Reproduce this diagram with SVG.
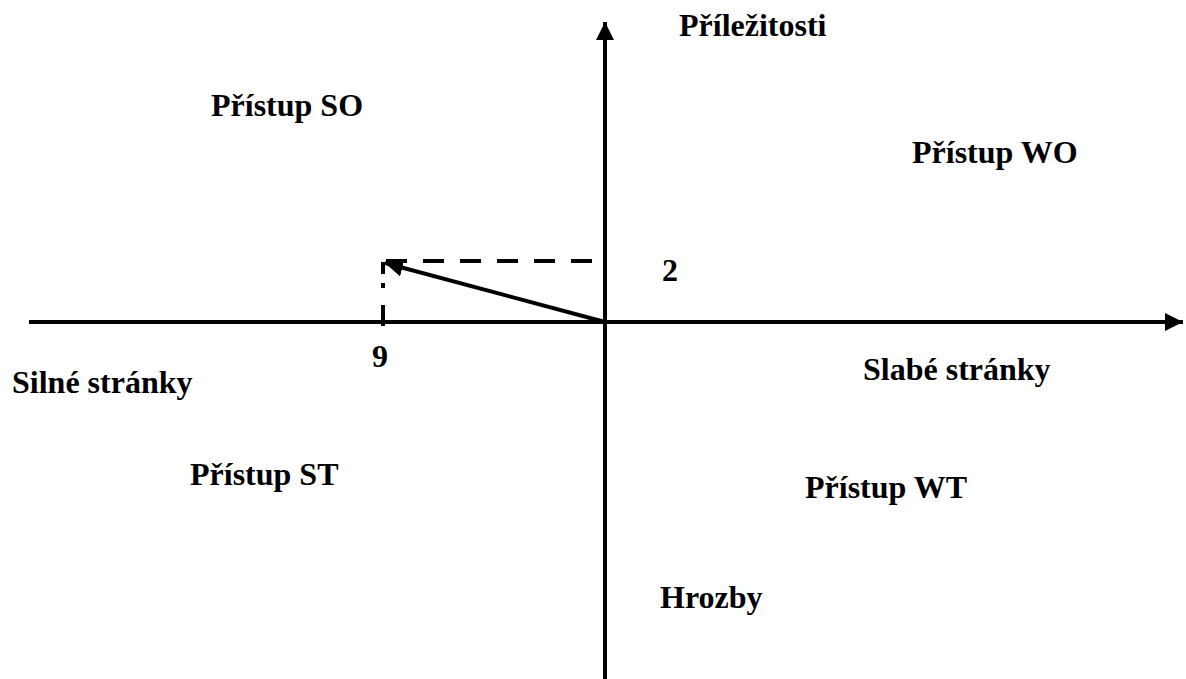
<svg xmlns="http://www.w3.org/2000/svg" width="1186" height="679" viewBox="0 0 1186 679">
<style>
.t{font-family:"Liberation Serif","Times New Roman",serif;font-weight:bold;font-size:32px;fill:#000}
.ax{stroke:#000;stroke-width:4;fill:none}
</style>
<defs>
<marker id="ah" markerUnits="userSpaceOnUse" markerWidth="20" markerHeight="18" refX="18" refY="9" orient="auto">
<path d="M0,0 L18,9 L0,18 Z" fill="#000"/>
</marker>
</defs>
<rect width="1186" height="679" fill="#fff"/>
<g id="connectors">
<line class="ax" x1="29" y1="322" x2="1183" y2="322" marker-end="url(#ah)"/>
<line class="ax" x1="605" y1="679" x2="605" y2="22" marker-end="url(#ah)"/>
<line class="ax" x1="592" y1="261" x2="383" y2="261" stroke-dasharray="21 16"/>
<path class="ax" d="M383,326 V305 M383,288 V283 M383,274 V262"/>
<line class="ax" x1="605" y1="322" x2="385" y2="263" marker-end="url(#ah)"/>
</g>
<g id="n-prilezitosti"><text class="t" x="679" y="36">Příležitosti</text></g>
<g id="n-so"><text class="t" x="211" y="116">Přístup SO</text></g>
<g id="n-wo"><text class="t" x="912" y="163">Přístup WO</text></g>
<g id="n-2"><text class="t" x="662" y="281">2</text></g>
<g id="n-9"><text class="t" x="372" y="367">9</text></g>
<g id="n-silne"><text class="t" x="12" y="393">Silné stránky</text></g>
<g id="n-slabe"><text class="t" x="863" y="380">Slabé stránky</text></g>
<g id="n-st"><text class="t" x="190" y="485">Přístup ST</text></g>
<g id="n-wt"><text class="t" x="805" y="498">Přístup WT</text></g>
<g id="n-hrozby"><text class="t" x="660" y="608">Hrozby</text></g>
</svg>
